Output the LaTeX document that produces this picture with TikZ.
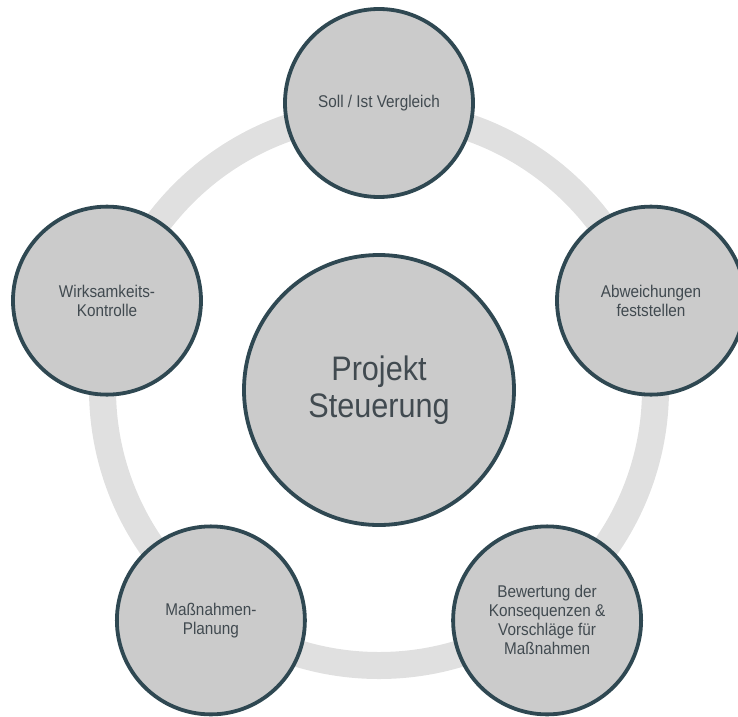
\documentclass[tikz,border=0pt]{standalone}
\usepackage{fontspec}
\setmainfont{Liberation Sans}[FakeStretch=0.9]
\usepackage{tikz}
\usetikzlibrary{positioning}
\usepackage{xcolor}

\definecolor{ringgray}{HTML}{E0E0E0}
\definecolor{fillgray}{HTML}{CBCBCB}
\definecolor{edgeslate}{HTML}{2F4852}
\definecolor{textgray}{HTML}{414A50}

\begin{document}
\begin{tikzpicture}[x=1pt, y=1pt,
    phase/.style={circle, draw=edgeslate, line width=3.8pt, fill=fillgray,
        minimum size=188pt, inner sep=0pt, align=center, text=textgray,
        font=\fontsize{17}{19}\selectfont},
    hub/.style={phase, minimum size=270pt,
        font=\fontsize{34}{37.5}\selectfont}]
    \useasboundingbox (-379, -327) rectangle (359, 389);
    \clip (-379, -327) rectangle (359, 389);

    % Kreislauf im Hintergrund
    \draw[ringgray, line width=27pt] (0, 0) circle (276.5);

    % Mitte
    \node[hub] (steuerung) at (0, -1) {Projekt\\Steuerung};

    % Phasen
    \node[phase] (soll)  at (90:286)   {Soll / Ist Vergleich};
    \node[phase] (abw)   at (18:286)   {Abweichungen\\feststellen};
    \node[phase] (bew)   at (-54:286)  {Bewertung der\\Konsequenzen \&\\Vorschläge für\\Maßnahmen};
    \node[phase] (plan)  at (-126:286) {Maßnahmen-\\Planung};
    \node[phase] (wirk)  at (162:286)  {Wirksamkeits-\\Kontrolle};
\end{tikzpicture}
\end{document}
